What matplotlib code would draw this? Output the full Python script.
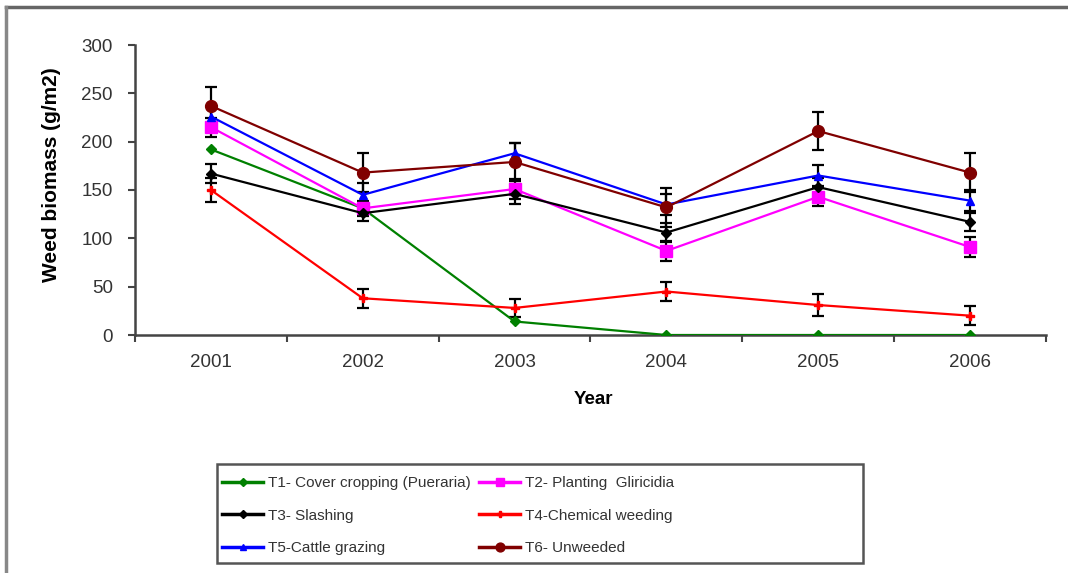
import matplotlib
matplotlib.use("Agg")
import matplotlib.pyplot as plt
from matplotlib.lines import Line2D
from matplotlib.patches import Rectangle

plt.rcParams['font.family'] = ['Liberation Sans', 'DejaVu Sans']

# data
years = ['2001', '2002', '2003', '2004', '2005', '2006']
labels = ['T1- Cover cropping (Pueraria)', 'T2- Planting  Gliricidia',
          'T3- Slashing', 'T4-Chemical weeding',
          'T5-Cattle grazing', 'T6- Unweeded']
t1 = [192, 131, 14, 0, 0, 0]
t2 = [215, 131, 151, 87, 143, 91]
t3 = [167, 126, 146, 106, 153, 117]
t4 = [150, 38, 28, 45, 31, 20]
t5 = [226, 145, 188, 135, 165, 139]
t6 = [237, 168, 179, 132, 211, 168]
e1 = [0, 0, 0, 0, 0, 0]
e2 = [10, 8, 10, 10, 10, 10]
e3 = [10, 8, 10, 10, 9, 9]
e4 = [12, 10, 9, 10, 11, 10]
e5 = [11, 12, 11, 11, 11, 11]
e6 = [20, 20, 20, 20, 20, 20]

series = [t1, t2, t3, t4, t5, t6]
errs = [e1, e2, e3, e4, e5, e6]
colors = ['#008000', '#FF00FF', '#000000', '#FF0000', '#0000FF', '#800000']
markers = ['D', 's', 'D', 'P', '^', 'o']
msizes = [5, 8, 5, 6, 6, 8.5]

fig = plt.figure(figsize=(10.68, 5.73), dpi=100)
ax = fig.add_axes([135/1068, 1-335/573, (1046-135)/1068, (335-45)/573])

x = list(range(len(years)))
handles = []
for s, e, c, m, ms, lab in zip(series, errs, colors, markers, msizes, labels):
    if sum(e) > 0:
        ax.errorbar(x, s, yerr=e, fmt='none', ecolor='black', elinewidth=1.6,
                    capsize=4, capthick=1.6, zorder=3)
    ax.plot(x, s, color=c, marker=m, markersize=ms, linewidth=1.6, zorder=4)
    handles.append(Line2D([], [], color=c, marker=m, markersize=ms*0.75,
                          linewidth=2.5, label=lab))

ax.set_xlim(-0.5, 5.5)
ax.set_ylim(0, 300)
ax.set_yticks(range(0, 301, 50))
ax.set_xticks([i - 0.5 for i in range(7)])
ax.set_xticklabels([])
ax.set_xticks(x, minor=True)
ax.set_xticklabels(years, minor=True)
ax.tick_params(axis='x', which='minor', length=0, pad=14, labelsize=13.5, labelcolor='#333333')
ax.tick_params(axis='x', which='major', length=5, width=1.5, color='#444444')
ax.tick_params(axis='y', length=5, width=1.5, color='#444444', labelsize=13.5,
               labelcolor='#333333', pad=11)
for side in ['top', 'right']:
    ax.spines[side].set_visible(False)
for side in ['left', 'bottom']:
    ax.spines[side].set_color('#444444')
    ax.spines[side].set_linewidth(1.8)

ax.set_xlabel('Year', fontsize=13.5, fontweight='bold')
ax.xaxis.set_label_coords((593-135)/911, -(400-335)/290)
ax.xaxis.label.set_va('center')
ax.set_ylabel('Weed biomass (g/m2)', fontsize=15, fontweight='bold')
ax.yaxis.set_label_coords(-(135-52)/911, (335-175)/290)
ax.yaxis.label.set_va('center')

# legend: row-major order like the original (T1 T2 / T3 T4 / T5 T6)
order = [0, 2, 4, 1, 3, 5]
leg = fig.legend(handles=[handles[i] for i in order], ncol=2, loc='upper left',
                 bbox_to_anchor=(222/1068, 1-476/573), fontsize=11, frameon=False,
                 handlelength=2.7, handletextpad=0.3, labelspacing=1.22,
                 columnspacing=0.55, borderpad=0, borderaxespad=0)
for t in leg.get_texts():
    t.set_color('#333333')
fig.add_artist(Rectangle((217/1068, 1-563/573), 646/1068, 99/573,
                         transform=fig.transFigure, fill=False,
                         edgecolor='#555555', linewidth=1.8))

# outer frame (top and left edges visible)
fig.add_artist(Line2D([6/1068, 1], [1-7/573, 1-7/573], color='#666666', linewidth=2.5))
fig.add_artist(Line2D([6/1068, 6/1068], [0, 1-7/573], color='#888888', linewidth=2.5))

fig.savefig('out.png', dpi=100)
